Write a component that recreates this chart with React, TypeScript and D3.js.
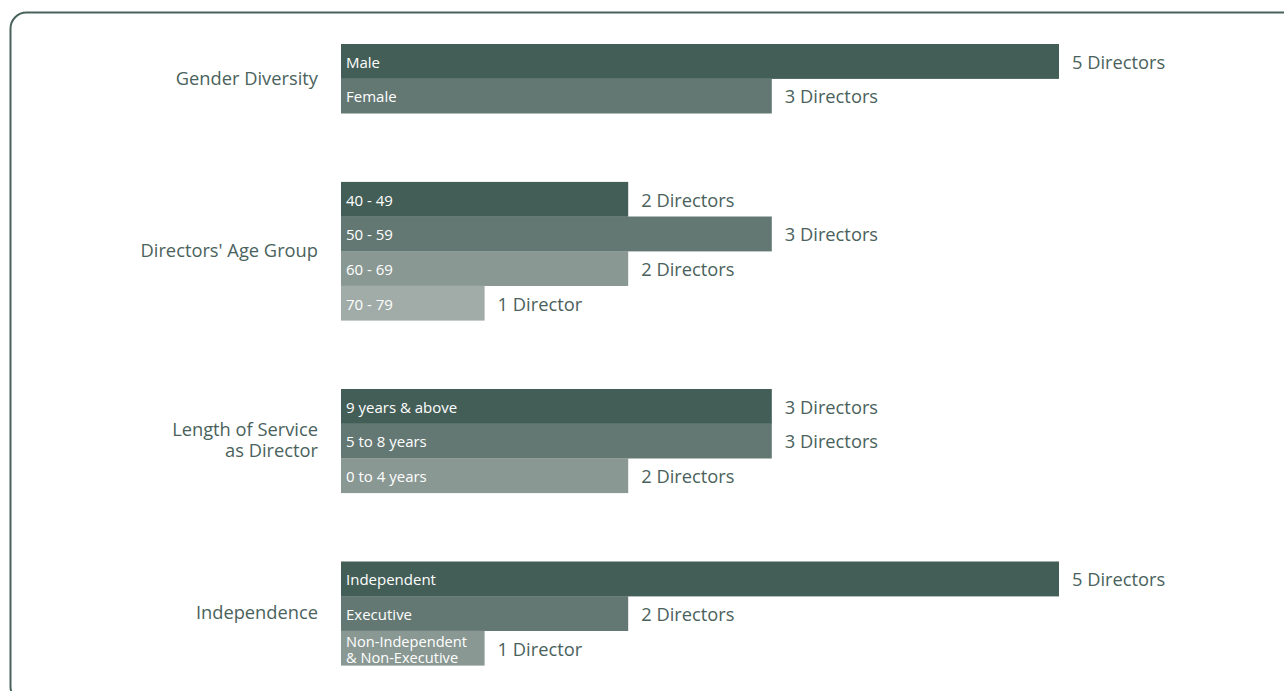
import React from "react";
import * as d3 from "d3";

const groupTitles = ["Gender Diversity", "Directors' Age Group", "Length of Service\nas Director", "Independence"];
const genderCats = ["Male", "Female"];
const genderVals = [5, 3];
const ageCats = ["40 - 49", "50 - 59", "60 - 69", "70 - 79"];
const ageVals = [2, 3, 2, 1];
const serviceCats = ["9 years & above", "5 to 8 years", "0 to 4 years"];
const serviceVals = [3, 3, 2];
const indepCats = ["Independent", "Executive", "Non-Independent\n& Non-Executive"];
const indepVals = [5, 2, 1];

const groups = [
  { title: groupTitles[0], cats: genderCats, vals: genderVals },
  { title: groupTitles[1], cats: ageCats, vals: ageVals },
  { title: groupTitles[2], cats: serviceCats, vals: serviceVals },
  { title: groupTitles[3], cats: indepCats, vals: indepVals },
];

const shades = ["#435e57", "#647873", "#8a9893", "#a1aca8"];
const textColor = "#4a625c";
const FONT = "'Open Sans', 'Noto Sans', sans-serif";

export default function App() {
  const W = 1284, H = 691;
  const x = d3.scaleLinear().domain([0, 5]).range([341, 1059]);
  const top = 44, rowH = 34.6, gap = 68.7;

  let cursor = top;
  const layout = groups.map((g) => {
    const y0 = cursor;
    const rows = g.cats.map((c, i) => ({ cat: c, val: g.vals[i], y: y0 + i * rowH, i }));
    cursor = y0 + g.cats.length * rowH + gap;
    return { ...g, y0, y1: y0 + g.cats.length * rowH, rows };
  });

  const label = (v: number) => `${v} ${v === 1 ? "Director" : "Directors"}`;

  return (
    <svg width={W} height={H} style={{ position: "absolute", left: 0, top: 0, display: "block" }} fontFamily={FONT}>
      <rect x={10.5} y={12.5} width={1300} height={690} rx={16} ry={16} fill="none" stroke="#48625c" strokeWidth={2} />
      {layout.map((g, gi) => {
        const lines = g.title.split("\n");
        const cy = (g.y0 + g.y1) / 2 - 2;
        return (
          <g key={gi}>
            <text x={318} y={cy - ((lines.length - 1) * 21) / 2} textAnchor="end" fontSize={18.3} fill={textColor} dominantBaseline="central">
              {lines.map((l, li) => (
                <tspan key={li} x={318} dy={li === 0 ? 0 : 21}>{l}</tspan>
              ))}
            </text>
            {g.rows.map((r) => {
              const cl = r.cat.split("\n");
              const bc = r.y + rowH / 2;
              const fs = cl.length > 1 ? 14.6 : 15;
              return (
                <g key={r.i}>
                  <rect x={x(0)} y={r.y} width={x(r.val) - x(0)} height={rowH + 0.3} fill={shades[r.i]} />
                  <text x={346} y={bc - ((cl.length - 1) * 16) / 2 + 0.5} fontSize={fs} fill="#ffffff" dominantBaseline="central">
                    {cl.map((l, li) => (
                      <tspan key={li} x={346} dy={li === 0 ? 0 : 16}>{l}</tspan>
                    ))}
                  </text>
                  <text x={x(r.val) + 13} y={bc} fontSize={18.3} fill={textColor} dominantBaseline="central">
                    {label(r.val)}
                  </text>
                </g>
              );
            })}
          </g>
        );
      })}
    </svg>
  );
}
